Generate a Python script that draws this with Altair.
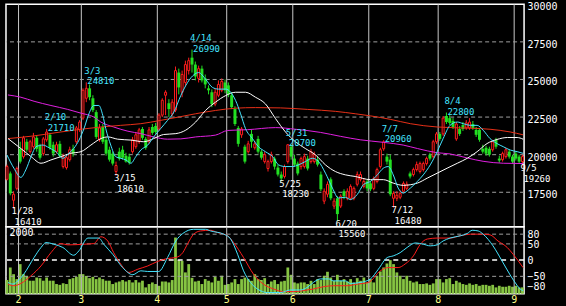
import altair as alt
import pandas as pd

# ---------------- data ----------------
opens = [18360, 18750, 16970, 17760, 20390, 19870, 20860, 20200, 20530, 21120,
         20590, 20070, 20990, 21320, 20660, 20200, 20720, 19210, 19140, 19670,
         20390, 20860, 21650, 22430, 23750, 24410, 23750, 22830, 20990, 21840,
         20990, 20330, 20070, 18880, 20200, 20330, 19930, 19870, 20200, 20530,
         20860, 21710, 21050, 20860, 21840, 21910, 21710, 22630, 23950, 23420,
         22700, 22960, 25460, 24150, 24800, 25590, 26450, 25990, 25070, 25720,
         25070, 24410, 24150, 23360, 23950, 24280, 24800, 24610, 23950, 23030,
         21780, 21320, 20530, 20200, 21380, 20460, 21050, 20200, 19540, 19080,
         19540, 19740, 19140, 18680, 18550, 19540, 20530, 19740, 19410, 19210,
         19210, 19740, 19540, 19540, 19670, 18680, 16910, 17370, 18360, 16580,
         17100, 16580, 17570, 17100, 17100, 17100, 18030, 18360, 17890, 18220,
         18090, 17760, 18220, 19210, 20390, 19870, 19670, 17100, 17100, 17170,
         17570, 17760, 18750, 18680, 19010, 18880, 19010, 19410, 20000, 19870,
         20860, 21380, 21380, 22570, 22430, 22240, 21050, 21710, 21970, 21780,
         21780, 22040, 21650, 21650, 20390, 20460, 20390, 20330, 20990, 19740,
         19670, 19870, 20200, 19870, 20070, 19870, 19540]
highs = [19340, 18880, 17570, 19210, 20860, 21250, 21050, 20990, 21450, 21250,
         20720, 21180, 21710, 21450, 20860, 20860, 20920, 20070, 20000, 20530,
         20660, 21910, 22300, 24410, 24810, 24670, 23950, 22960, 22040, 22040,
         21120, 20530, 20200, 19540, 20460, 20590, 20130, 20070, 21180, 21510,
         21780, 21840, 21180, 21840, 22040, 22110, 22760, 23750, 24280, 23690,
         23690, 25860, 25720, 25590, 26250, 26450, 26990, 26190, 25920, 25920,
         25330, 24610, 24340, 24410, 24940, 25070, 25000, 24800, 24150, 23220,
         21910, 21840, 20660, 20920, 21650, 20920, 21250, 20330, 20200, 19670,
         20200, 19870, 19340, 18880, 19340, 20700, 20660, 20000, 19540, 19870,
         20070, 19930, 20390, 20200, 19870, 18880, 17760, 18220, 18490, 17100,
         17240, 17370, 17700, 17760, 18030, 17890, 18880, 18880, 18420, 18360,
         18220, 18550, 19140, 20460, 20960, 20070, 20000, 17570, 17570, 17630,
         18220, 18220, 18880, 19140, 19540, 19540, 19540, 19870, 20130, 20990,
         21510, 21510, 22570, 22800, 22630, 22430, 22170, 21910, 22170, 22300,
         22430, 22240, 21840, 21780, 20660, 20590, 20530, 20990, 21120, 19930,
         20200, 20460, 20330, 20000, 20200, 20000, 20000]
lows = [18290, 17300, 16410, 17630, 19410, 19740, 20200, 20070, 20390, 20200,
        19670, 19930, 20860, 20330, 19870, 20070, 19800, 19080, 19010, 19540,
        19870, 20720, 21510, 22300, 23490, 23620, 22830, 21050, 20860, 20720,
        19930, 19540, 19280, 18610, 19610, 19670, 19470, 19340, 20070, 20390,
        20720, 20990, 20330, 20720, 21320, 21380, 21580, 22500, 22630, 22500,
        22570, 22830, 24010, 23820, 24540, 25330, 25460, 24940, 24800, 24800,
        24410, 24010, 23160, 23220, 23820, 24150, 24080, 23820, 23030, 21910,
        20530, 21120, 19410, 20070, 20460, 20330, 20070, 19670, 19410, 18880,
        19410, 19010, 18550, 18230, 18420, 19410, 19670, 19210, 18620, 19010,
        19080, 18950, 19410, 19410, 19210, 17570, 16710, 17170, 16970, 16380,
        15560, 16450, 17040, 16970, 16970, 16970, 17890, 18220, 17760, 17570,
        17570, 17630, 18090, 19080, 20260, 19340, 17240, 16480, 16910, 17040,
        17430, 17630, 18420, 18550, 18880, 18750, 18880, 19280, 19610, 19740,
        20720, 20920, 21250, 22040, 21970, 21710, 20920, 21250, 21580, 21650,
        21650, 21650, 21180, 20860, 20070, 19930, 19870, 20200, 20390, 19470,
        19540, 19740, 19740, 19410, 19610, 19410, 19260]
closes = [19210, 17430, 17370, 19080, 19540, 21120, 20330, 20860, 21180, 20390,
          19800, 21050, 21510, 20460, 20070, 20660, 19930, 19870, 19800, 20330,
          20070, 21780, 22170, 24280, 24410, 23820, 22960, 21180, 21780, 20860,
          20070, 19670, 19410, 19280, 19740, 19800, 19540, 19470, 20990, 21320,
          21650, 21120, 20460, 21650, 21450, 21510, 22630, 23620, 24150, 23030,
          23490, 25590, 24470, 25330, 25990, 26250, 25990, 25200, 25720, 24940,
          24670, 24280, 23360, 24150, 24670, 24870, 24280, 24010, 23160, 22040,
          20720, 21710, 19540, 20720, 20860, 20720, 20200, 19800, 20000, 19540,
          20000, 19210, 18680, 18420, 19210, 20660, 19870, 19340, 18750, 19740,
          19870, 19080, 20200, 20000, 19340, 17700, 17570, 18030, 17100, 16910,
          16050, 17240, 17240, 17570, 17890, 17760, 18680, 18680, 18220, 17760,
          17700, 18420, 19010, 20330, 20860, 19540, 17370, 17430, 17300, 17430,
          18090, 18030, 18550, 19010, 19340, 19410, 19410, 19740, 19740, 20860,
          21380, 21050, 22430, 22170, 22110, 21840, 22040, 21380, 21710, 22110,
          22170, 21780, 21320, 20990, 20200, 20070, 20000, 20860, 20530, 19610,
          20070, 20330, 19870, 19540, 19740, 19540, 19870]
volumes = [430, 825, 615, 460, 930, 615, 560, 410, 410, 510,
           490, 410, 510, 410, 410, 305, 280, 330, 305, 460,
           490, 530, 615, 615, 560, 490, 530, 460, 510, 460,
           410, 410, 305, 355, 385, 430, 385, 430, 355, 430,
           355, 410, 200, 305, 355, 305, 250, 385, 385, 355,
           430, 1765, 1055, 1034, 670, 930, 500, 385, 407, 305,
           460, 407, 355, 530, 407, 565, 280, 305, 355, 460,
           305, 460, 510, 460, 407, 615, 460, 430, 490, 305,
           385, 430, 305, 385, 407, 825, 595, 355, 325, 355,
           355, 305, 407, 305, 460, 430, 565, 690, 510, 407,
           595, 407, 460, 385, 460, 355, 490, 407, 510, 355,
           460, 355, 565, 700, 825, 950, 1055, 930, 670, 565,
           460, 565, 407, 355, 385, 305, 305, 325, 280, 325,
           460, 460, 355, 460, 490, 305, 407, 355, 305, 280,
           325, 280, 305, 250, 280, 280, 250, 280, 200, 250,
           220, 220, 250, 220, 250, 200, 200]

# moving averages (sampled along the trading-day axis)
cyan_t = [0, 2.1, 4.2, 5.7, 7.3, 8.8, 10.9, 12.7, 14.8, 16.9, 18.7, 20.2, 21.8, 23.3,
          24.8, 26.3, 27.8, 29.0, 29.9, 31.4, 32.9, 34.4, 36.0, 37.5, 39.0, 40.5, 42.6,
          44.4, 46.5, 48.6, 50.5, 52.6, 54.1, 56.2, 58.0, 60.1, 62.2, 64.0, 66.2, 67.7,
          69.2, 70.7, 72.2, 74.3, 76.1, 78.2, 80.4, 82.2, 84.3, 86.4, 88.2, 90.3, 92.4,
          94.3, 96.4, 98.5, 100.3, 102.4, 103.9, 106.0, 107.9, 110.0, 112.1, 113.9,
          115.4, 116.9, 118.4, 119.9, 122.1, 124.2, 126.0, 128.1, 130.2, 132.0, 134.1,
          136.3, 138.1, 140.3, 142.3, 144.1, 146.2, 148.3, 150.2, 152.3, 154.4, 156.2]
cyan_v = [19980, 19100, 18490, 18990, 19870, 20530, 20640, 20460, 20200, 19760, 20090,
          20410, 20970, 21730, 22720, 23270, 23270, 22610, 21730, 20640, 19870, 19760,
          19650, 19430, 19870, 20310, 20640, 21180, 21730, 22280, 22830, 23930, 24590,
          25240, 25460, 25020, 24470, 24360, 24360, 24150, 23600, 22720, 21730, 21070,
          20530, 20200, 19870, 19320, 19210, 19210, 19320, 19540, 19760, 19540, 18770,
          17780, 17120, 17170, 17020, 17350, 18010, 18220, 18660, 19100, 19210, 18660,
          17780, 17450, 17780, 18220, 18660, 19320, 20200, 21070, 21950, 22170, 22060,
          21950, 21950, 21630, 21070, 20740, 20530, 20310, 20200, 20090]
white_t = [0.3, 4.2, 7.3, 10.3, 13.3, 16.3, 19.3, 22.4, 25.4, 28.4, 30.5, 33.5, 37.5,
           41.4, 44.4, 47.4, 51.1, 54.1, 57.1, 60.1, 63.1, 66.2, 69.2, 72.2, 75.2, 78.2,
           81.3, 84.3, 87.3, 90.3, 93.4, 96.4, 99.4, 102.4, 105.4, 110.0, 113.9, 116.9,
           119.9, 124.2, 127.2, 130.2, 133.2, 136.3, 139.3, 142.3, 145.3, 148.3, 151.5,
           154.4, 156.2]
white_v = [21070, 20410, 19870, 19430, 19650, 19870, 20090, 20200, 20640, 21070, 21180,
           21030, 20970, 20860, 21070, 21340, 21400, 21630, 22170, 22940, 23490, 23930,
           24150, 24150, 23820, 23380, 22390, 21510, 20860, 20410, 19980, 19320, 18880,
           18660, 18550, 18340, 18340, 18110, 17960, 18110, 18440, 18770, 19100, 19430,
           19760, 20200, 20740, 21010, 21140, 21140, 21030]
red_t = [0.3, 8.2, 16.3, 22.4, 28.4, 34.4, 40.5, 46.5, 52.6, 57.1, 63.1, 69.2, 75.2,
         82.8, 90.9, 99.4, 105.4, 110.0, 116.0, 122.1, 130.2, 140.3, 146.2, 152.3, 156.2]
red_v = [21070, 21250, 21510, 21690, 21840, 21950, 22060, 22280, 22530, 22720, 22940,
         23090, 23130, 23110, 23010, 22880, 22720, 22580, 22350, 22060, 21840, 21760,
         21690, 21510, 21320]
mag_t = [0.3, 4.2, 8.2, 13.3, 18.4, 22.4, 26.3, 28.4, 32.3, 36.6, 40.5, 44.4, 48.6,
         52.6, 57.1, 63.1, 66.8, 72.8, 81.3, 87.3, 94.9, 100.9, 106.9, 113.9, 119.9,
         124.2, 130.2, 134.1, 139.3, 144.1, 150.2, 156.2]
mag_v = [23970, 23820, 23550, 23270, 23010, 22760, 22500, 22170, 21840, 21560, 21400,
         21180, 21030, 21050, 21180, 21300, 21610, 21660, 21800, 21690, 21480, 21220,
         20990, 20820, 20640, 20410, 20130, 20050, 19780, 19560, 19430, 19410]

# oscillators (lower panel)
osc_c_t = [0.3, 1.8, 3.3, 5.1, 8.2, 10.3, 11.8, 14.2, 16.9, 20.2, 21.8, 24.5, 27.8, 29.3,
           32.0, 35.0, 38.1, 40.5, 42.6, 45.9, 48.6, 51.1, 53.2, 56.5, 60.1, 61.6, 65.6,
           67.7, 69.8, 71.6, 73.7, 75.8, 78.9, 82.8, 85.8, 88.8, 90.9, 92.7, 94.9, 97.3,
           98.8, 102.4, 103.9, 106.9, 110.0, 112.4, 115.1, 116.9, 119.0, 121.1, 123.6,
           126.0, 128.1, 130.2, 132.0, 134.1, 137.2, 139.3, 140.8, 142.6, 144.1, 147.1,
           149.8, 152.3, 154.4, 155.3, 156.2]
osc_c_v = [-69, -74, -64, -43, 8, 39, 54, 49, 39, 15, 29, 68, 68, 49, 18, -23, -45, -33,
           -35, -35, 8, 59, 82, 95, 95, 90, 80, 65, 18, -33, -69, -89, -100, -100, -92,
           -92, -84, -69, -58, -58, -64, -64, -72, -69, -58, -28, 8, 13, 23, 39, 53, 49,
           44, 47, 59, 68, 75, 82, 92, 90, 80, 44, -2, -46, -78, -89, -94]
osc_r_t = [0.3, 2.1, 4.2, 7.3, 10.3, 13.3, 16.3, 18.4, 23.3, 26.3, 28.4, 30.5, 32.3, 34.4,
           36.9, 39.6, 42.6, 45.6, 48.6, 51.1, 53.2, 54.7, 56.5, 58.6, 61.6, 63.7, 66.8,
           68.6, 71.6, 74.6, 77.6, 80.7, 83.7, 86.7, 89.7, 92.7, 95.8, 98.8, 103.0, 106.0,
           109.4, 113.0, 115.4, 118.4, 120.5, 123.0, 125.1, 127.2, 130.2, 134.1, 137.2,
           140.3, 144.1, 146.2, 148.6, 151.4, 153.2, 156.2]
osc_r_v = [-74, -79, -72, -48, -18, 23, 51, 47, 49, 51, 72, 59, 23, -12, -38, -28, -18,
           -4, 5, 8, 23, 51, 80, 90, 92, 85, 75, 54, 8, -43, -74, -89, -97, -97, -94,
           -89, -82, -79, -79, -74, -69, -33, -23, -23, -12, 13, 49, 65, 68, 68, 75, 80,
           80, 78, 59, 39, 18, -23]

month_start = [4, 23, 46, 67, 87, 110, 131, 154]
month_label = ["2", "3", "4", "5", "6", "7", "8", "9"]

price_ticks = [17500, 20000, 22500, 25000, 27500, 30000]
price_grid = [17500, 20000, 22500, 25000, 27500]
osc_ticks = [-80, -50, 0, 50, 80]
osc_grid = [-50, 50, 80]
vol_label = ["2000"]

ann_i = [2, 12, 24, 33, 56, 83, 85, 100, 114, 117, 133, 156]
ann_date = ["1/28", "2/10", "3/3", "3/15", "4/14", "5/25", "5/31", "6/20", "7/7",
            "7/12", "8/4", "9/5"]
ann_price = [16410, 21710, 24810, 18610, 26990, 18230, 20700, 15560, 20960, 16480,
             22800, 19260]
ann_kind = ["low", "high", "high", "low", "high", "low", "high", "low", "high", "low",
            "high", "low"]

# ---------------- styling ----------------
FONT = "DejaVu Sans Mono"
RED = "#ff1c1c"
GREEN = "#22e022"
CYAN = "#44e4ff"
MARED = "#e83018"
MAG = "#e020e0"
VOLC = "#86c442"
GRID = "#a0a0a0"
MONTH = "#c8c8c8"
YEL = "#ffff88"

W, H1, H2 = 519, 223, 67
xs = alt.Scale(domain=[-0.3, 156.5], nice=False, zero=False)
ys = alt.Scale(domain=[15200, 30000], nice=False, zero=False)
osc_s = alt.Scale(domain=[-103.7, 102.5], nice=False, zero=False)
vol_s = alt.Scale(domain=[0, 2100], nice=False, zero=False)

yaxis = alt.Axis(orient="right", values=price_ticks, title=None, grid=False, ticks=False,
                 domain=False, labelColor="white", labelFont=FONT, labelFontSize=10,
                 labelPadding=3, labelOffset=2.5, labelOverlap=False, labelAlign="left",
                 format="d")
oaxis = alt.Axis(orient="right", values=osc_ticks, title=None, grid=False, ticks=False,
                 domain=False, labelColor="white", labelFont=FONT, labelFontSize=10,
                 labelPadding=3, labelOffset=0.5, labelOverlap=False, labelAlign="left",
                 format="d")

cd = pd.DataFrame({"i": list(range(len(closes))), "o": opens, "h": highs, "l": lows,
                   "c": closes, "v": volumes})
base = alt.Chart(cd)
X = alt.X("i:Q", scale=xs, axis=None)
UP = "datum.c >= datum.o"
DN = "datum.c < datum.o"

months = alt.Chart(pd.DataFrame({"s": month_start, "m": month_label})).transform_calculate(
    p="datum.s - 0.5")
mrule = months.mark_rule(color=MONTH, strokeWidth=1).encode(
    x=alt.X("p:Q", scale=xs, axis=None))

gmain = alt.Chart(pd.DataFrame({"g": price_grid})).mark_rule(
    color=GRID, strokeDash=[4, 3], strokeWidth=1).encode(
    y=alt.Y("g:Q", scale=ys, axis=yaxis))

wick_dn = base.transform_filter(DN).mark_rule(color=GREEN, strokeWidth=1).encode(
    x=X, y=alt.Y("l:Q", scale=ys, axis=yaxis), y2="h:Q")
wick_up = base.transform_filter(UP).mark_rule(color=RED, strokeWidth=1).encode(
    x=X, y=alt.Y("l:Q", scale=ys, axis=yaxis), y2="h:Q")
body_dn = base.transform_filter(DN).transform_calculate(
    a="datum.i - 0.45", b="datum.i + 0.45").mark_rect(color=GREEN).encode(
    x=alt.X("a:Q", scale=xs, axis=None), x2="b:Q",
    y=alt.Y("o:Q", scale=ys, axis=yaxis), y2="c:Q")
body_up = base.transform_filter(UP).transform_calculate(
    a="datum.i - 0.3", b="datum.i + 0.3").mark_rect(
    fill="black", stroke=RED, strokeWidth=1).encode(
    x=alt.X("a:Q", scale=xs, axis=None), x2="b:Q",
    y=alt.Y("o:Q", scale=ys, axis=yaxis), y2="c:Q")


def line(t, v, color, scale, axis):
    return alt.Chart(pd.DataFrame({"t": t, "v": v})).mark_line(
        color=color, strokeWidth=1, interpolate="monotone").encode(
        x=alt.X("t:Q", scale=xs, axis=None),
        y=alt.Y("v:Q", scale=scale, axis=axis), order="t:Q")


ma_mag = line(mag_t, mag_v, MAG, ys, yaxis)
ma_red = line(red_t, red_v, MARED, ys, yaxis)
ma_white = line(white_t, white_v, "white", ys, yaxis)
ma_cyan = line(cyan_t, cyan_v, CYAN, ys, yaxis)

ann = alt.Chart(pd.DataFrame({"i": ann_i, "d": ann_date, "p": ann_price, "k": ann_kind}))
AY = alt.Y("p:Q", scale=ys, axis=yaxis)
txt = dict(align="left", baseline="alphabetic", font=FONT, fontSize=9)
hi_date = ann.transform_filter("datum.k == 'high'").mark_text(
    dx=-2, dy=-8.5, color=CYAN, **txt).encode(x=X, y=AY, text="d:N")
hi_price = ann.transform_filter("datum.k == 'high'").mark_text(
    dx=1, dy=2, color=CYAN, **txt).encode(x=X, y=AY, text=alt.Text("p:Q", format="d"))
lo_date = ann.transform_filter("datum.k == 'low'").mark_text(
    dx=-2, dy=5.5, color="white", **txt).encode(x=X, y=AY, text="d:N")
lo_price = ann.transform_filter("datum.k == 'low'").mark_text(
    dx=1, dy=16, color="white", **txt).encode(x=X, y=AY, text=alt.Text("p:Q", format="d"))

main = alt.layer(mrule, gmain, wick_dn, wick_up, body_dn, body_up,
                 ma_mag, ma_red, ma_white, ma_cyan,
                 hi_date, hi_price, lo_date, lo_price).properties(width=W, height=H1)

# ---------------- lower panel ----------------
vol = base.transform_calculate(a="datum.i - 0.42", b="datum.i + 0.42").mark_rect(
    color=VOLC).encode(
    x=alt.X("a:Q", scale=xs, axis=None), x2="b:Q",
    y=alt.Y("v:Q", scale=vol_s, axis=None), y2=alt.datum(0))
ogrid = alt.Chart(pd.DataFrame({"g": osc_grid})).mark_rule(
    color=GRID, strokeDash=[4, 3], strokeWidth=1).encode(
    y=alt.Y("g:Q", scale=osc_s, axis=None))
ozero = alt.Chart(pd.DataFrame({"g": [0]})).mark_rule(
    color="white", strokeDash=[5, 4], strokeWidth=1.5).encode(
    y=alt.Y("g:Q", scale=osc_s, axis=None))
osc_red = line(osc_r_t, osc_r_v, RED, osc_s, None)
osc_cyan = line(osc_c_t, osc_c_v, CYAN, osc_s, oaxis)
vtext = alt.Chart(pd.DataFrame({"t": vol_label})).mark_text(
    align="left", baseline="middle", font=FONT, fontSize=10, color="white").encode(
    x=alt.value(3.5), y=alt.value(6), text="t:N")
mtext = months.mark_text(baseline="middle", font=FONT, fontSize=10, color=YEL).encode(
    x=alt.X("p:Q", scale=xs, axis=None), y=alt.value(H2 + 6), text="m:N")

lower = alt.layer(vol, mrule, ogrid, ozero, osc_red, osc_cyan, vtext, mtext).resolve_scale(
    y="independent").properties(width=W, height=H2)

chart = alt.vconcat(main, lower, spacing=0, bounds="flush").properties(
    background="black",
    padding={"left": 4, "top": 0, "right": 8, "bottom": 2},
).configure_view(stroke="white", strokeWidth=1.5).configure_concat(spacing=0)

chart.save("out.html", embed_options={"renderer": "svg", "actions": False})
